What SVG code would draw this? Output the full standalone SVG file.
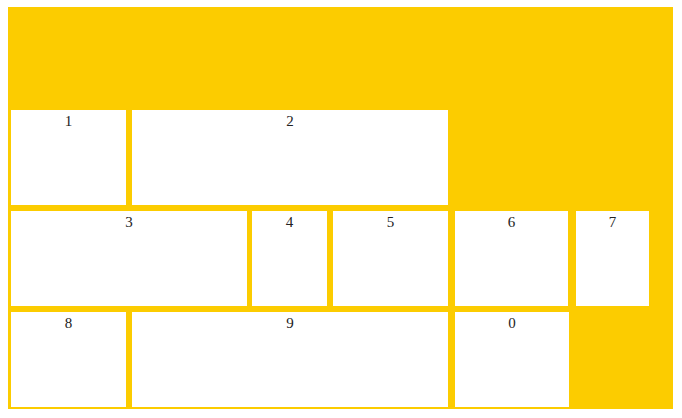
<svg xmlns="http://www.w3.org/2000/svg" width="682" height="418" viewBox="0 0 682 418">
<style>
.box{fill:#ffffff}
.lbl{font-family:"Liberation Serif","DejaVu Serif",serif;font-size:15px;fill:#222222;text-anchor:middle}
</style>
<rect x="0" y="0" width="682" height="418" fill="#ffffff"/>
<rect x="8" y="7" width="665" height="402" fill="#fccc00"/>
<g id="node-1"><rect class="box" x="11" y="110" width="115" height="95"/><text class="lbl" x="68.5" y="126">1</text></g>
<g id="node-2"><rect class="box" x="132" y="110" width="316" height="95"/><text class="lbl" x="290" y="126">2</text></g>
<g id="node-3"><rect class="box" x="11" y="211" width="236" height="95"/><text class="lbl" x="129" y="227">3</text></g>
<g id="node-4"><rect class="box" x="252" y="211" width="75" height="95"/><text class="lbl" x="289.5" y="227">4</text></g>
<g id="node-5"><rect class="box" x="333" y="211" width="115" height="95"/><text class="lbl" x="390.5" y="227">5</text></g>
<g id="node-6"><rect class="box" x="455" y="211" width="113" height="95"/><text class="lbl" x="511.5" y="227">6</text></g>
<g id="node-7"><rect class="box" x="576" y="211" width="73" height="95"/><text class="lbl" x="612.5" y="227">7</text></g>
<g id="node-8"><rect class="box" x="11" y="312" width="115" height="95"/><text class="lbl" x="68.5" y="328">8</text></g>
<g id="node-9"><rect class="box" x="132" y="312" width="316" height="95"/><text class="lbl" x="290" y="328">9</text></g>
<g id="node-0"><rect class="box" x="455" y="312" width="114" height="95"/><text class="lbl" x="512" y="328">0</text></g>
<g id="connectors"></g>
</svg>
